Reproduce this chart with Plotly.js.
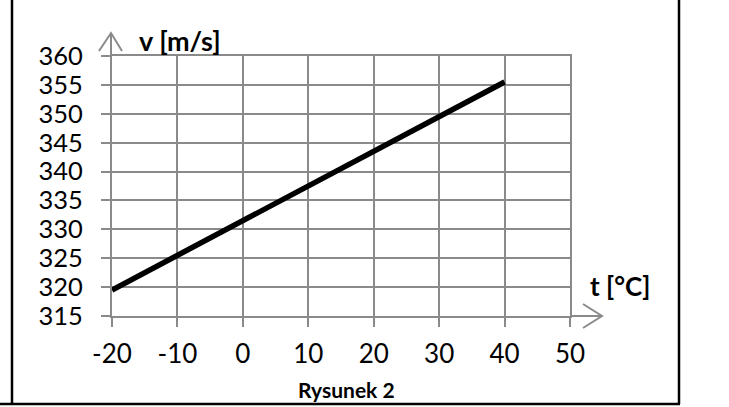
<!DOCTYPE html>
<html>
<head>
<meta charset="utf-8">
<script src="https://cdn.plot.ly/plotly-3.0.1.min.js"></script>
<style>html,body{margin:0;padding:0;background:#fff;}#chart{width:729px;height:407px;}</style>
</head>
<body>
<div id="chart"></div>
<script>
// Data
const temperatures = [-20, -10, 0, 10, 20, 30, 40];
const speeds = [319.5, 325.5, 331.5, 337.5, 343.5, 349.5, 355.5];
const xTicks = [-20, -10, 0, 10, 20, 30, 40, 50];
const yTicks = [315, 320, 325, 330, 335, 340, 345, 350, 355, 360];
const yLabel = 'v [m/s]';
const xLabel = 't [°C]';
const caption = 'Rysunek 2';

const FONT = 'Lato, "Open Sans", sans-serif';
const GRID = '#8a8a8a';

// plot area pixel geometry helpers (paper coords)
const L = 112, R = 570, T = 56, B = 316, W = 729, H = 407;
const px = v => (v - L) / (R - L);
const py = v => (B - v) / (B - T);

const trace = {
  x: temperatures,
  y: speeds,
  mode: 'lines',
  line: {color: '#000000', width: 5.5},
  hoverinfo: 'skip'
};

const shapes = [
  // y axis arrow
  {type: 'line', xref: 'paper', yref: 'paper', x0: px(111), x1: px(111), y0: py(56), y1: py(33), line: {color: GRID, width: 2}},
  {type: 'path', xref: 'paper', yref: 'paper', path: `M ${px(99)} ${py(51)} L ${px(111)} ${py(33)} L ${px(122)} ${py(51)}`, line: {color: GRID, width: 2}},
  // x axis arrow
  {type: 'line', xref: 'paper', yref: 'paper', x0: px(570), x1: px(602), y0: py(316), y1: py(316), line: {color: GRID, width: 2}},
  {type: 'path', xref: 'paper', yref: 'paper', path: `M ${px(583)} ${py(304)} L ${px(602)} ${py(316)} L ${px(583)} ${py(328)}`, line: {color: GRID, width: 2}},
  // page frame
  {type: 'line', xref: 'paper', yref: 'paper', x0: px(12), x1: px(12), y0: py(0), y1: py(404), line: {color: '#000', width: 2.5}},
  {type: 'line', xref: 'paper', yref: 'paper', x0: px(679), x1: px(679), y0: py(0), y1: py(404), line: {color: '#000', width: 2.5}},
  {type: 'line', xref: 'paper', yref: 'paper', x0: px(0), x1: px(680), y0: py(404), y1: py(404), line: {color: '#000', width: 2.5}}
];

const annotations = [
  {text: '<b>' + yLabel + '</b>', xref: 'paper', yref: 'paper', x: px(137), y: py(40), xanchor: 'left', yanchor: 'middle', showarrow: false, font: {family: FONT, size: 27, color: '#000'}},
  {text: '<b>' + xLabel + '</b>', xref: 'paper', yref: 'paper', x: px(588), y: py(286), xanchor: 'left', yanchor: 'middle', showarrow: false, font: {family: FONT, size: 26, color: '#000'}},
  {text: '<b>' + caption + '</b>', xref: 'paper', yref: 'paper', x: px(296), y: py(390), xanchor: 'left', yanchor: 'middle', showarrow: false, font: {family: FONT, size: 21, color: '#000'}}
];

const layout = {
  width: W, height: H,
  margin: {l: L, r: W - R, t: T, b: H - B, pad: 0},
  paper_bgcolor: '#fff', plot_bgcolor: '#fff',
  showlegend: false,
  font: {family: FONT, size: 26, color: '#000'},
  xaxis: {
    range: [-20, 50], tickvals: xTicks, ticktext: xTicks.map(String),
    showgrid: true, gridcolor: GRID, gridwidth: 2,
    showline: true, linecolor: GRID, linewidth: 2, mirror: true,
    ticks: 'outside', ticklen: 9, tickwidth: 2, tickcolor: GRID,
    zeroline: false, ticklabelstandoff: 5,
    tickfont: {family: FONT, size: 26, color: '#000'}
  },
  yaxis: {
    range: [315, 360], tickvals: yTicks, ticktext: yTicks.map(String),
    showgrid: true, gridcolor: GRID, gridwidth: 2,
    showline: true, linecolor: GRID, linewidth: 2, mirror: true,
    ticks: 'outside', ticklen: 9, tickwidth: 2, tickcolor: GRID,
    zeroline: false, ticklabelstandoff: 13,
    tickfont: {family: FONT, size: 25.5, color: '#000'}
  },
  shapes: shapes,
  annotations: annotations
};

Plotly.newPlot('chart', [trace], layout, {displayModeBar: false, staticPlot: true});
</script>
</body>
</html>
